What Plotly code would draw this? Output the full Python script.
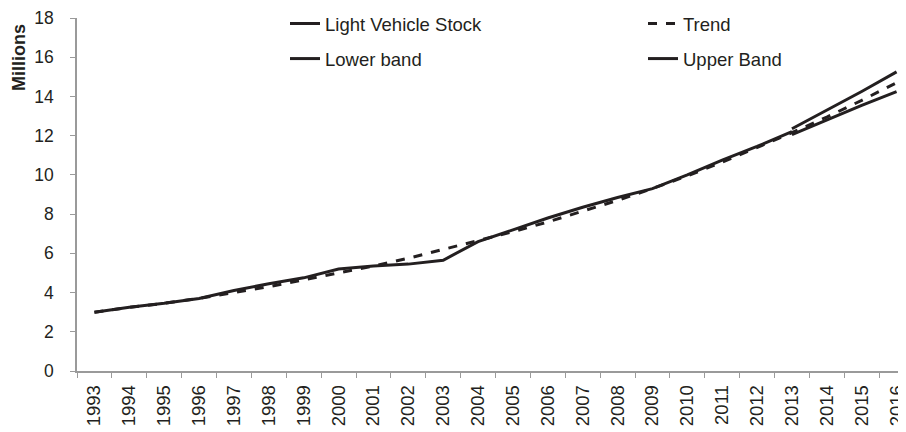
import plotly.graph_objects as go

years = [str(y) for y in range(1993, 2017)]

# Light vehicle stock (millions), observed to 2013
stock = [3.0, 3.25, 3.45, 3.7, 4.1, 4.45, 4.75, 5.2, 5.35, 5.45, 5.65, 6.6,
         7.2, 7.8, 8.35, 8.85, 9.3, 10.0, 10.75, 11.45, 12.2]

trend = [3.0, 3.25, 3.45, 3.7, 4.0, 4.3, 4.65, 5.0, 5.35, 5.75, 6.2, 6.65,
         7.1, 7.6, 8.15, 8.7, 9.3, 9.95, 10.65, 11.4, 12.15, 12.95, 13.8, 14.7]

band_years = ["2013", "2014", "2015", "2016"]
lower_band = [12.05, 12.8, 13.55, 14.25]
upper_band = [12.35, 13.3, 14.25, 15.25]

ink = "#231f20"
axis_grey = "#9a9a9a"
fig = go.Figure()

fig.add_trace(go.Scatter(x=years[:len(stock)], y=stock, name="Light Vehicle Stock",
                         mode="lines", line=dict(color=ink, width=3),
                         legend="legend", legendgroup="a"))
fig.add_trace(go.Scatter(x=band_years, y=lower_band, name="Lower band",
                         mode="lines", line=dict(color=ink, width=3),
                         legend="legend", legendgroup="b"))
fig.add_trace(go.Scatter(x=years, y=trend, name="Trend",
                         mode="lines", line=dict(color=ink, width=3, dash="dash"),
                         legend="legend2", legendgroup="c"))
fig.add_trace(go.Scatter(x=band_years, y=upper_band, name="Upper Band",
                         mode="lines", line=dict(color=ink, width=3),
                         legend="legend2", legendgroup="d"))

# top kept at 10 so the "18" label stays inside the page
left, top, bottom = 69, 10, 363
plot_w = 906 - left
plot_h = bottom - top

legend_style = dict(font=dict(family="Liberation Sans, Arial", size=18.5, color=ink),
                    bgcolor="rgba(0,0,0,0)", tracegroupgap=8,
                    xanchor="left", yanchor="top", itemwidth=30)

fig.update_layout(
    width=906, height=432,
    margin=dict(l=left, r=0, t=top, b=432 - bottom, autoexpand=False),
    paper_bgcolor="white", plot_bgcolor="white",
    font=dict(family="Liberation Sans, Arial", size=18, color=ink),
    legend=dict(x=(277 - left) / plot_w, y=1 + 13 / plot_h, **legend_style),
    legend2=dict(x=(635 - left) / plot_w, y=1 + 13 / plot_h, **legend_style),
    xaxis=dict(type="category", range=[-0.5, 23.5], tickangle=-90, dtick=1,
               tickson="boundaries", ticks="outside", ticklen=5, tickcolor=axis_grey,
               showline=True, linecolor=axis_grey, linewidth=1.5, showgrid=False,
               ticklabelstandoff=5, tickfont=dict(size=18.5)),
    yaxis=dict(range=[0, 18], dtick=2, ticks="outside", ticklen=5, tickcolor=axis_grey,
               showline=True, linecolor=axis_grey, linewidth=1.5, showgrid=False,
               zeroline=False, ticklabelstandoff=13, tickfont=dict(size=17.5)),
    annotations=[dict(text="<b>Millions</b>", textangle=-90,
                      x=(11 - left) / plot_w, y=1 - (50 - top) / plot_h,
                      xref="paper", yref="paper", showarrow=False,
                      xanchor="center", yanchor="middle",
                      font=dict(size=18, color=ink))],
)

fig.write_html("out.html")
